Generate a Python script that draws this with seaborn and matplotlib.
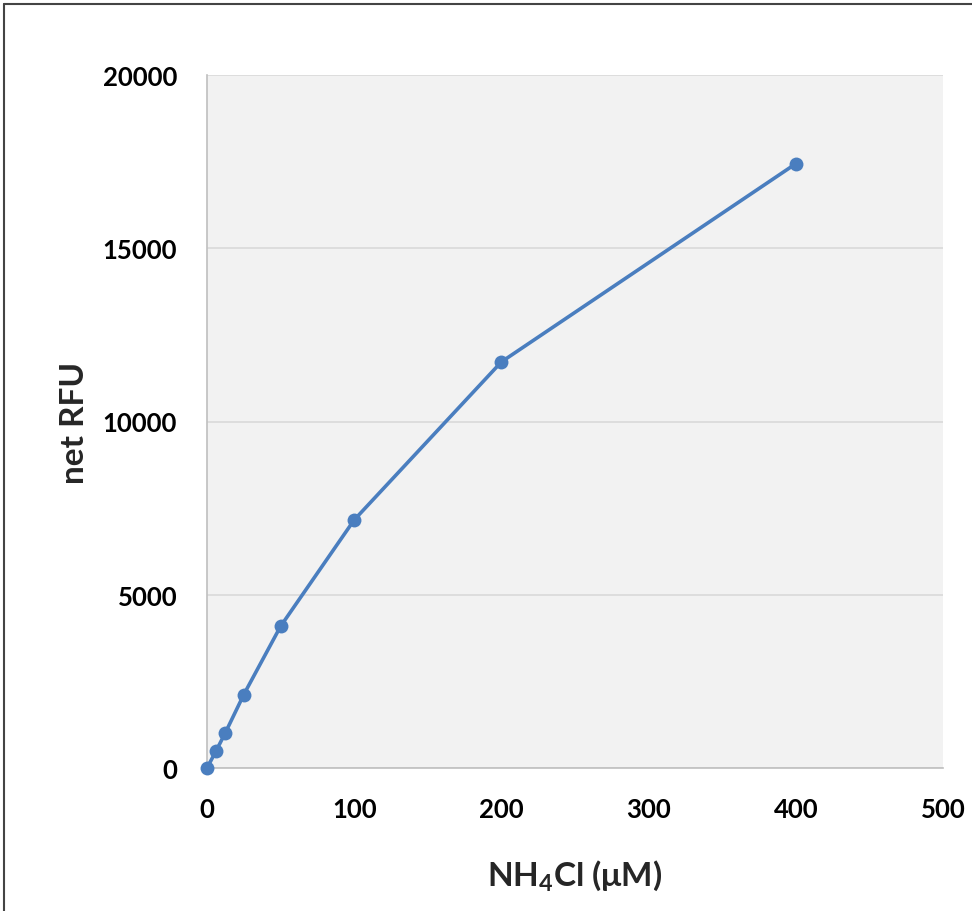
import matplotlib
matplotlib.use("Agg")
import matplotlib.pyplot as plt
import seaborn as sns
import pandas as pd
from matplotlib.lines import Line2D

conc = [0, 6.25, 12.5, 25, 50, 100, 200, 400]
rfu = [0, 500, 1020, 2120, 4090, 7160, 11720, 17440]
x_ticks = [0, 100, 200, 300, 400, 500]
y_ticks = [0, 5000, 10000, 15000, 20000]

sns.set_style("white")
plt.rcParams['font.family'] = ['Lato', 'DejaVu Sans']
plt.rcParams['mathtext.fontset'] = 'custom'
plt.rcParams['mathtext.rm'] = 'Lato:bold'
plt.rcParams['mathtext.bf'] = 'Lato:bold'
plt.rcParams['mathtext.it'] = 'Lato:bold'

df = pd.DataFrame({"conc": conc, "rfu": rfu})

fig = plt.figure(figsize=(9.72, 9.12), dpi=100)
ax = fig.add_axes([207/972, 1-769/912, (943-207)/972, (769-76)/912])
ax.set_facecolor("#F2F2F2")

sns.lineplot(data=df, x="conc", y="rfu", ax=ax, color="#4A7EBF",
             linewidth=2.6, marker="o", markersize=10, markeredgewidth=0,
             clip_on=False, zorder=5)

ax.set_xlim(0, 500)
ax.set_ylim(0, 20000)
ax.set_xticks(x_ticks)
ax.set_yticks(y_ticks)
ax.set_xticklabels([str(v) for v in x_ticks], fontsize=18.5, fontweight="bold")
ax.set_yticklabels([str(v) for v in y_ticks], fontsize=18.5, fontweight="bold")
ax.tick_params(axis="x", length=0, pad=21, colors="black")
ax.tick_params(axis="y", length=0, pad=21.5, colors="black")
ax.yaxis.grid(True, color="#D9D9D9", linewidth=1.2)
ax.xaxis.grid(False)
ax.set_axisbelow(True)

for s in ["top", "right"]:
    ax.spines[s].set_visible(False)
ax.spines["left"].set_color("#BFBFBF")
ax.spines["bottom"].set_color("#BFBFBF")
ax.spines["left"].set_linewidth(1.2)
ax.spines["bottom"].set_linewidth(1.2)

ax.set_xlabel(r"NH$_{4}$Cl (μM)", fontsize=24, fontweight="bold", labelpad=26)
ax.set_ylabel("net RFU", fontsize=24, fontweight="bold", labelpad=10)

# outer frame (top and left edges)
fig.add_artist(Line2D([4/972, 1], [1-5/912, 1-5/912], transform=fig.transFigure,
                      color="#444444", linewidth=1.5))
fig.add_artist(Line2D([4/972, 4/972], [0, 1-5/912], transform=fig.transFigure,
                      color="#444444", linewidth=1.5))

fig.savefig("out.png", dpi=100)
